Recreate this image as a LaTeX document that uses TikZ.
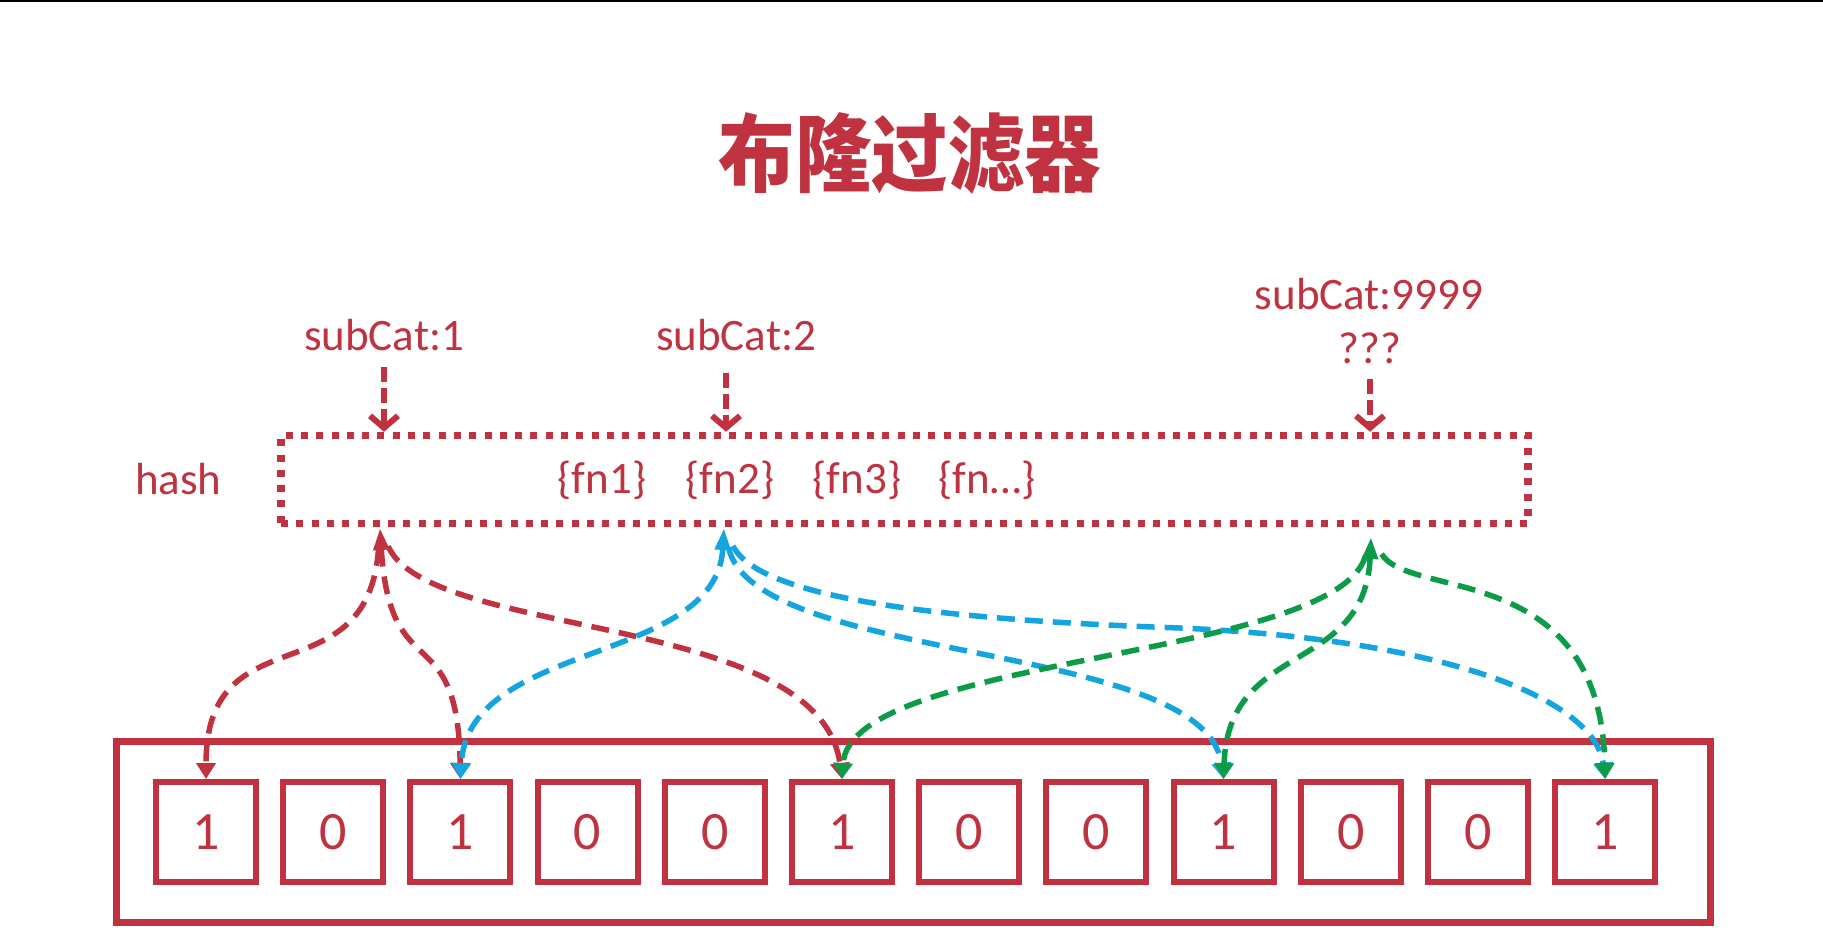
\documentclass[tikz,border=0pt]{standalone}
\usepackage{fontspec}
\usepackage{graphicx}
\setmainfont{Carlito}
\newfontfamily\cjk{Noto Sans CJK SC}
\usetikzlibrary{arrows.meta}
\definecolor{cred}{RGB}{192,50,64}
\definecolor{cblue}{RGB}{20,165,225}
\definecolor{cgreen}{RGB}{12,156,72}
\begin{document}
\begin{tikzpicture}[x=1pt,y=-1pt,
  lbl/.style={text=cred, font=\fontsize{45}{54}\selectfont, inner sep=0pt},
  bitcell/.style={draw=cred, line width=6pt, minimum width=100pt, minimum height=100pt, inner sep=0pt, text=cred, font=\fontsize{54}{60}\selectfont},
  hashbox/.style={draw=cred, line width=7.5pt, dash pattern=on 7pt off 8.3pt, inner sep=0pt},
  downarrow/.style={draw=cred, line width=6pt, dash pattern=on 15pt off 6pt, -{Straight Barb[length=12pt,width=28pt]}},
  conn/.style={line width=5.5pt, dash pattern=on 18pt off 10pt, -{Triangle[length=16pt,width=19pt]}},
  srchead/.style={arrows={Triangle[length=22pt,width=15pt]-Triangle[length=16pt,width=19pt]}},
  nohead/.style={shorten <=20pt},
]
\useasboundingbox (0,0) rectangle (1823,950);
\fill[white] (0,0) rectangle (1823,950);
\fill[black] (0,0) rectangle (1823,2.5);

% title
\node[text=cred, font=\cjk\bfseries\fontsize{85}{90}\selectfont, inner sep=0pt] (title) at (910,154) {\scalebox{0.9}[1]{布隆过滤器}};

% labels
\node[lbl, anchor=base] (s1) at (384,350) {subCat:1};
\node[lbl, anchor=base] (s2) at (736,350) {subCat:2};
\node[lbl, anchor=base] (s3) at (1369,309) {subCat:9999};
\node[lbl, anchor=base] (q3) at (1370,363) {???};
\node[lbl, anchor=base west] (hashlbl) at (135,494) {hash};

% hash box
\node[hashbox, minimum width=1247pt, minimum height=88pt] (hb) at (904.5,479.5) {};
\node[lbl, anchor=base] (f1) at (602,493) {\{fn1\}};
\node[lbl, anchor=base] (f2) at (730,493) {\{fn2\}};
\node[lbl, anchor=base] (f3) at (857,493) {\{fn3\}};
\node[lbl, anchor=base] (f4) at (987,493) {\{fn…\}};

% down arrows
\draw[downarrow] ([yshift=-17pt]s1.base) -- (s1.base |- hb.north);
\draw[downarrow] ([shift={(-10pt,-23pt)}]s2.base) -- ([xshift=-10pt]s2.base |- hb.north);
\draw[downarrow] ([yshift=-16pt]q3.base) -- (q3.base |- hb.north);

% bit array
\node[draw=cred, line width=7pt, minimum width=1594pt, minimum height=181pt, inner sep=0pt] (outer) at (913.5,832) {};
\foreach \v [count=\i] in {1,0,1,0,0,1,0,0,1,0,0,1}
  \node[bitcell] (c\i) at ({78.8+127.2*\i},832) {\v};

% sources
\coordinate (rs) at (380,528);
\coordinate (bs) at (724,528);
\coordinate (gs) at (1371,537);

% red
\draw[conn, cred, nohead] (rs) .. controls (368,700) and (206,610) .. (c1.north);
\draw[conn, cred, srchead] (rs) .. controls (390,690) and (458,615) .. (c3.north);
\draw[conn, cred, nohead] (rs) .. controls (430,640) and (820,612) .. (c6.north);
% blue
\draw[conn, cblue, srchead] (bs) .. controls (716,665) and (468,640) .. (c3.north);
\draw[conn, cblue, nohead] (bs) .. controls (755,665) and (1205,640) .. (c9.north);
\draw[conn, cblue, nohead] (bs) .. controls (760,600) and (950,620) .. (1180,628) .. controls (1450,640) and (1595,700) .. (c12.north);
% green
\draw[conn, cgreen, nohead] (gs) .. controls (1335,660) and (850,655) .. (c6.north);
\draw[conn, cgreen, srchead] (gs) .. controls (1365,675) and (1228,640) .. (c9.north);
\draw[conn, cgreen, nohead] (gs) .. controls (1410,600) and (1600,560) .. (c12.north);
\end{tikzpicture}
\end{document}
